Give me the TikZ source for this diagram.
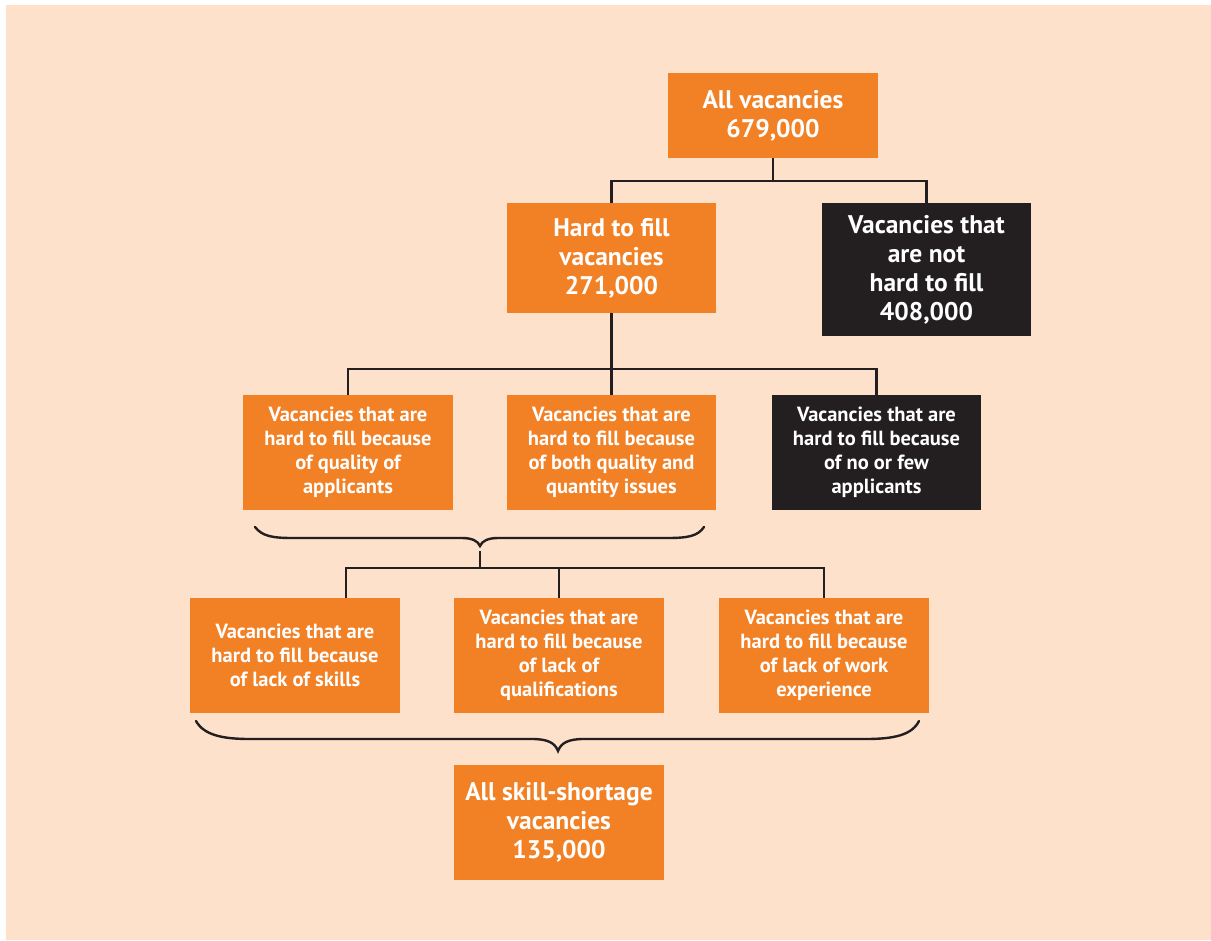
\documentclass[tikz,border=0pt]{standalone}
\usepackage{fontspec}
\setmainfont{PT Sans}
\definecolor{bg}{HTML}{FDE1CA}
\definecolor{org}{HTML}{F28025}
\definecolor{blk}{HTML}{231F20}
\begin{document}
\begin{tikzpicture}[x=1pt,y=-1pt,
  box/.style={rectangle, inner sep=0pt, align=center, text=white, minimum width=210pt},
  obox/.style={box, fill=org},
  kbox/.style={box, fill=blk},
  big/.style={font=\bfseries\fontsize{25.5}{29}\selectfont},
  small/.style={font=\bfseries\fontsize{20.5}{24}\selectfont},
  conn/.style={draw=blk, line width=2.2pt},
  brace/.style={draw=blk, line width=2.4pt, line cap=round}]
\useasboundingbox (0,0) rectangle (1211,941);
\fill[white] (0,0) rectangle (1211,941);
\fill[bg] (6,5) rectangle (1211,940);

\node[obox, big, minimum height=85pt] (all) at (773,115.5) {All vacancies\\679,000};
\node[obox, big, minimum height=110pt, minimum width=209pt] (hard) at (611.5,258) {Hard to fill\\vacancies\\271,000};
\node[kbox, big, minimum height=133pt, minimum width=209pt] (not) at (926.5,269.5) {Vacancies that\\are not\\hard to fill\\408,000};

\node[obox, small, minimum height=115pt] (qual) at (348,452.5) {Vacancies that are\\hard to fill because\\of quality of\\applicants};
\node[obox, small, minimum height=115pt, minimum width=209pt] (both) at (611.5,452.5) {Vacancies that are\\hard to fill because\\of both quality and\\quantity issues};
\node[kbox, small, minimum height=115pt, minimum width=209pt] (few) at (876.5,452.5) {Vacancies that are\\hard to fill because\\of no or few\\applicants};

\node[obox, small, minimum height=115pt] (skills) at (295,655.5) {Vacancies that are\\hard to fill because\\of lack of skills};
\node[obox, small, minimum height=115pt] (quals) at (559,655.5) {Vacancies that are\\hard to fill because\\of lack of\\qualifications};
\node[obox, small, minimum height=115pt] (exp) at (824,655.5) {Vacancies that are\\hard to fill because\\of lack of work\\experience};

\node[obox, big, minimum height=115pt] (short) at (559,822.5) {All skill-shortage\\vacancies\\135,000};

% level 1 -> 2
\coordinate (j1) at (773,181);
\draw[conn] (all.south) -- (j1);
\draw[conn] (hard.north) |- (j1) -| (not.north);

% level 2 -> 3
\coordinate (j2) at (611.5,369);
\draw[conn] (hard.south) -- (both.north);
\draw[conn] (qual.north) |- (j2) -| (few.north);

% brace 1
\coordinate (b1l) at (255,527);
\coordinate (b1t) at (480,546);
\coordinate (b1r) at (704,527);
\draw[brace] (b1l) .. controls (262,536) and (272,538) .. (292,538) -- (462,538)
  .. controls (472,538) and (478,541) .. (b1t)
  .. controls (482,541) and (488,538) .. (498,538) -- (668,538)
  .. controls (688,538) and (698,536) .. (b1r);

% brace 1 -> level 4
\coordinate (s1) at (480,551);
\coordinate (j3) at (480,568);
\coordinate (d1) at ([xshift=51pt]skills.north);
\draw[conn] (s1) -- (j3);
\draw[conn] (d1) |- (j3) -| (exp.north);
\draw[conn] (quals.north) -- (quals.north |- j3);

% brace 2
\coordinate (b2l) at (196,721);
\coordinate (b2t) at (558,751);
\coordinate (b2r) at (919,721);
\draw[brace] (b2l) .. controls (204,735) and (222,739) .. (250,739) -- (532,739)
  .. controls (548,739) and (555,743) .. (b2t)
  .. controls (561,743) and (568,739) .. (584,739) -- (866,739)
  .. controls (894,739) and (912,735) .. (b2r);
\end{tikzpicture}
\end{document}
